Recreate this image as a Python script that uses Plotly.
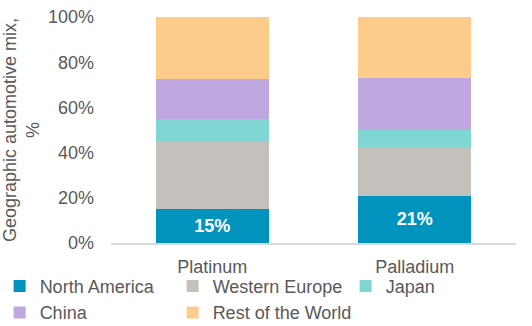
import plotly.graph_objects as go

categories = ["Platinum", "Palladium"]
series_names = ["North America", "Western Europe", "Japan", "China", "Rest of the World"]
north_america = [15, 21]
western_europe = [30, 21]
japan = [10, 8]
china = [17.5, 23]
rest_of_world = [27.5, 27]
colors = ["#0093BE", "#C4C1BC", "#7FD6D2", "#BFA8E0", "#FDCC8A"]

values = [north_america, western_europe, japan, china, rest_of_world]
fig = go.Figure()
for i, (name, vals, col) in enumerate(zip(series_names, values, colors)):
    fig.add_trace(go.Bar(
        x=categories, y=vals, name=name, marker_color=col, marker_line_width=0,
        text=[f"{v:.0f}%" for v in vals] if i == 0 else None,
        textposition="inside" if i == 0 else None,
        insidetextanchor="middle",
        textfont=dict(color="white", size=18, family="Liberation Sans", weight="bold"),
    ))

fig.update_layout(
    barmode="stack",
    bargap=0.44,
    width=532, height=326,
    margin=dict(l=111, r=16, t=17, b=83, autoexpand=False),
    plot_bgcolor="white", paper_bgcolor="white",
    font=dict(family="Liberation Sans, Arial", size=18, color="#595959"),
    showlegend=True,
    legend=dict(orientation="h", x=-0.275, xanchor="left", y=-0.11, yanchor="top",
                entrywidth=128, traceorder="normal", itemwidth=30,
                bgcolor="rgba(0,0,0,0)",
                font=dict(size=18, color="#595959"), tracegroupgap=0),
    uniformtext=dict(minsize=10, mode="show"),
)
fig.update_yaxes(range=[0, 100], dtick=20, ticksuffix="%", showgrid=False,
                 zeroline=False, showline=False, ticks="", ticklabelstandoff=16,
                 title=dict(text="Geographic automotive mix,<br>%", font=dict(size=18, color="#595959"), standoff=6))
fig.update_xaxes(showline=True, linecolor="#D9D9D9", linewidth=2, ticks="", showgrid=False,
                 ticklabelstandoff=6)

fig.write_html("out.html")
